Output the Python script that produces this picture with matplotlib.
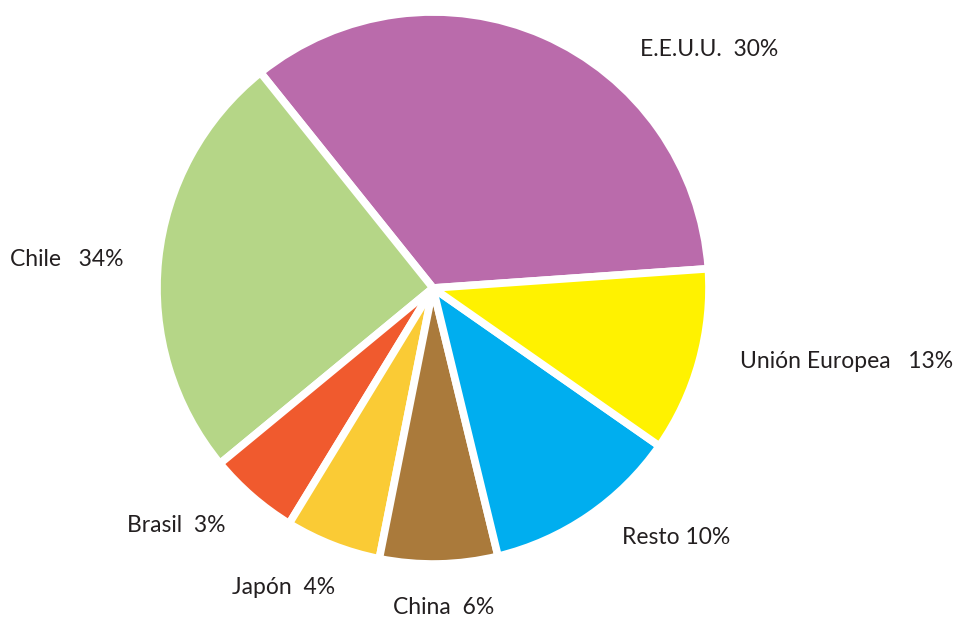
import matplotlib
matplotlib.use("Agg")
import matplotlib.pyplot as plt

# wedge sizes (angles), labels as printed
regions = ["E.E.U.U.", "Chile", "Brasil", "Japón", "China", "Resto", "Unión Europea"]
sizes = [34.6, 25.2, 5.3, 5.6, 6.9, 11.5, 10.8]
label_pcts = ["30%", "34%", "3%", "4%", "6%", "10%", "13%"]
colors = ["#BA6BAB", "#B5D687", "#F05A2E", "#FACB35", "#AA7A3B", "#00AEEF", "#FFF200"]
label_sep = ["  ", "   ", "  ", "  ", "  ", " ", "   "]

W, H = 958, 620
fig = plt.figure(figsize=(W / 100, H / 100), dpi=100)
ax = fig.add_axes([0, 0, 1, 1])

ax.pie(sizes, colors=colors, startangle=4, counterclock=True,
       center=(433, H - 288), radius=276,
       wedgeprops=dict(edgecolor="white", linewidth=5.5, joinstyle="round"))

ax.set_xlim(0, W)
ax.set_ylim(0, H)
ax.set_aspect("equal")
ax.axis("off")

# label anchor points (left edge, vertical centre) in pixels from top-left
label_x = [640, 10, 127, 232, 393, 622, 740]
label_y = [50, 260, 525, 588, 608, 538, 362]

for name, pct, sep, x, y in zip(regions, label_pcts, label_sep, label_x, label_y):
    ax.text(x, H - y, name + sep + pct, ha="left", va="center",
            fontsize=16.5, family="Lato", color="#231F20")

fig.savefig("out.png", dpi=100)
